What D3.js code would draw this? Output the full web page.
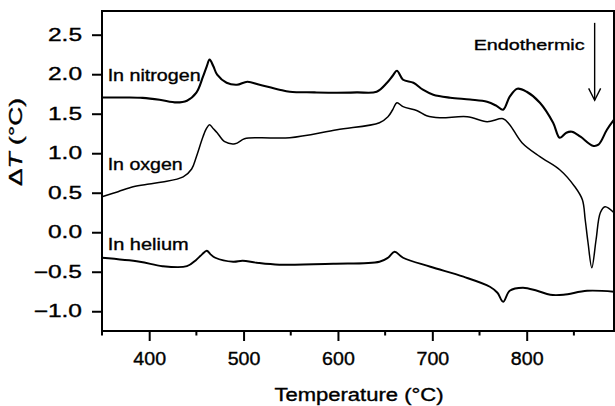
<!DOCTYPE html>
<html>
<head>
<meta charset="utf-8">
<script src="https://cdn.jsdelivr.net/npm/d3@7"></script>
<style>
  html, body { margin: 0; padding: 0; background: #fff; }
  svg { display: block; }
  text { font-family: "Liberation Sans", Arial, Helvetica, sans-serif; fill: #000; stroke: #000; stroke-width: 0.35px; }
</style>
</head>
<body>
<svg id="chart" width="615" height="406"></svg>
<script>
// DTA traces: temperature (°C) and ΔT (°C) for each atmosphere
const nitrogenT  = [350, 375, 393, 411, 429, 440, 450, 457, 461, 464, 468, 472, 482, 493, 504, 517, 538, 549, 575, 599, 620, 641, 652, 658, 662.5, 669, 680, 690, 701, 719, 740, 758, 768, 775, 782, 790, 800, 814, 828, 835, 842, 848, 857, 870, 876, 885, 892.5];
const nitrogenDT = [1.706, 1.705, 1.70, 1.677, 1.643, 1.665, 1.766, 1.968, 2.10, 2.184, 2.10, 1.994, 1.892, 1.867, 1.905, 1.867, 1.804, 1.778, 1.77, 1.766, 1.77, 1.778, 1.892, 1.98, 2.044, 1.930, 1.892, 1.804, 1.741, 1.703, 1.68, 1.652, 1.60, 1.551, 1.715, 1.816, 1.778, 1.639, 1.386, 1.196, 1.260, 1.272, 1.209, 1.095, 1.108, 1.297, 1.424];

const oxygenT  = [350, 367, 383, 400, 414, 436, 445, 450, 457, 461, 464, 468, 472, 480, 491, 501, 517, 549, 599, 644, 653, 658, 662.5, 669, 684, 694, 708, 737, 758, 775, 782, 795, 814, 835, 851, 859, 862, 865, 869, 873.5, 878, 883, 892.5];
const oxygenDT = [0.449, 0.513, 0.576, 0.61, 0.635, 0.70, 0.80, 0.956, 1.209, 1.32, 1.361, 1.31, 1.260, 1.146, 1.120, 1.184, 1.196, 1.196, 1.297, 1.386, 1.462, 1.55, 1.639, 1.589, 1.538, 1.475, 1.449, 1.462, 1.399, 1.437, 1.361, 1.133, 0.956, 0.791, 0.576, 0.411, 0.158, -0.133, -0.449, -0.095, 0.247, 0.323, 0.247];

const heliumT  = [350, 390, 414, 440, 450, 456, 461, 465, 470, 489, 499, 514, 538, 595, 644, 653, 660, 669, 698, 733, 761, 769, 775, 782, 796, 811, 825, 839, 864, 892.5];
const heliumDT = [-0.323, -0.373, -0.43, -0.43, -0.348, -0.28, -0.234, -0.28, -0.323, -0.373, -0.361, -0.386, -0.411, -0.399, -0.373, -0.323, -0.247, -0.323, -0.437, -0.563, -0.690, -0.766, -0.880, -0.741, -0.702, -0.741, -0.791, -0.791, -0.741, -0.753];

const seriesNames = ["In nitrogen", "In oxgen", "In helium"];
const xTicks = [400, 500, 600, 700, 800];
const xMinorTicks = [350, 450, 550, 650, 750, 850];
const yTicks = [-1.0, -0.5, 0.0, 0.5, 1.0, 1.5, 2.0, 2.5];
const xDomain = [350, 892.5];
const yDomain = [-1.25, 2.8];

const svg = d3.select("#chart");
const frame = { left: 102, top: 11, right: 614, bottom: 331 };

const x = d3.scaleLinear().domain(xDomain).range([frame.left, frame.right]);
const y = d3.scaleLinear().domain(yDomain).range([frame.bottom, frame.top]);

// stretch a text node horizontally to a given factor of its natural width
function widen(sel, k) {
  sel.each(function () {
    const w = this.getComputedTextLength();
    d3.select(this).attr("textLength", w * k).attr("lengthAdjust", "spacingAndGlyphs");
  });
}

// x axis: major and minor ticks
const xAxis = svg.append("g")
  .attr("transform", `translate(0,${frame.bottom})`)
  .call(d3.axisBottom(x).tickValues(xTicks).tickFormat(d3.format("d")).tickSize(10).tickPadding(12));
xAxis.select(".domain").remove();
xAxis.selectAll(".tick line").attr("stroke", "#000").attr("stroke-width", 2);
xAxis.selectAll(".tick text").attr("font-size", 17.5).attr("font-family", null).attr("fill", null);
widen(xAxis.selectAll(".tick text"), 1.12);

svg.append("g").selectAll("line").data(xMinorTicks).join("line")
  .attr("x1", d => x(d)).attr("x2", d => x(d))
  .attr("y1", frame.bottom).attr("y2", frame.bottom + 4.5)
  .attr("stroke", "#000").attr("stroke-width", 2);

// y axis
const yAxis = svg.append("g")
  .attr("transform", `translate(${frame.left},0)`)
  .call(d3.axisLeft(y).tickValues(yTicks).tickFormat(d3.format(".1f")).tickSize(10).tickPadding(10));
yAxis.select(".domain").remove();
yAxis.selectAll(".tick line").attr("stroke", "#000").attr("stroke-width", 2);
yAxis.selectAll(".tick text").attr("font-size", 17.5).attr("font-family", null).attr("fill", null);
widen(yAxis.selectAll(".tick text"), 1.4);

// plot frame
svg.append("rect")
  .attr("x", frame.left).attr("y", frame.top)
  .attr("width", frame.right - frame.left).attr("height", frame.bottom - frame.top)
  .attr("fill", "none").attr("stroke", "#000").attr("stroke-width", 2);

// traces
const line = d3.line()
  .x(d => x(d[0])).y(d => y(d[1]))
  .curve(d3.curveCatmullRom.alpha(0.5));

const traces = [
  { name: seriesNames[0], t: nitrogenT, v: nitrogenDT, w: 2.1 },
  { name: seriesNames[1], t: oxygenT, v: oxygenDT, w: 1.5 },
  { name: seriesNames[2], t: heliumT, v: heliumDT, w: 1.9 }
];

svg.append("g").selectAll("path").data(traces).join("path")
  .attr("d", d => line(d.t.map((t, i) => [t, d.v[i]])))
  .attr("fill", "none").attr("stroke", "#000")
  .attr("stroke-width", d => d.w).attr("stroke-linejoin", "round");

// series labels
const labelPos = [
  { name: seriesNames[0], t: 356, v: 1.92, len: 93 },
  { name: seriesNames[1], t: 356, v: 0.79, len: 75 },
  { name: seriesNames[2], t: 356, v: -0.22, len: 81 }
];
svg.append("g").selectAll("text").data(labelPos).join("text")
  .attr("x", d => x(d.t)).attr("y", d => y(d.v))
  .attr("font-size", 16.5)
  .attr("textLength", d => d.len).attr("lengthAdjust", "spacingAndGlyphs")
  .text(d => d.name);

// endothermic direction marker
const arrowX = 872;
svg.append("text")
  .attr("x", x(arrowX) - 10).attr("y", y(2.31))
  .attr("text-anchor", "end")
  .attr("font-size", 15.5)
  .attr("textLength", 111).attr("lengthAdjust", "spacingAndGlyphs")
  .text("Endothermic");
const arrow = svg.append("g").attr("stroke", "#000").attr("stroke-width", 1.4).attr("fill", "none");
arrow.append("line")
  .attr("x1", x(arrowX)).attr("x2", x(arrowX))
  .attr("y1", y(2.65)).attr("y2", y(1.67));
arrow.append("polyline")
  .attr("points", [[x(arrowX) - 6, y(1.82)], [x(arrowX), y(1.67)], [x(arrowX) + 6, y(1.82)]].map(p => p.join(",")).join(" "));

// axis titles
svg.append("text")
  .attr("x", (frame.left + frame.right) / 2 + 1).attr("y", 401)
  .attr("text-anchor", "middle").attr("font-size", 17.5)
  .attr("textLength", 169).attr("lengthAdjust", "spacingAndGlyphs")
  .text("Temperature (°C)");

const yTitle = svg.append("text")
  .attr("transform", `translate(22,142) rotate(-90)`)
  .attr("text-anchor", "middle").attr("font-size", 17.5)
  .attr("textLength", 88).attr("lengthAdjust", "spacingAndGlyphs");
yTitle.append("tspan").text("Δ");
yTitle.append("tspan").attr("font-style", "italic").text("T");
yTitle.append("tspan").text(" (°C)");
</script>
</body>
</html>
